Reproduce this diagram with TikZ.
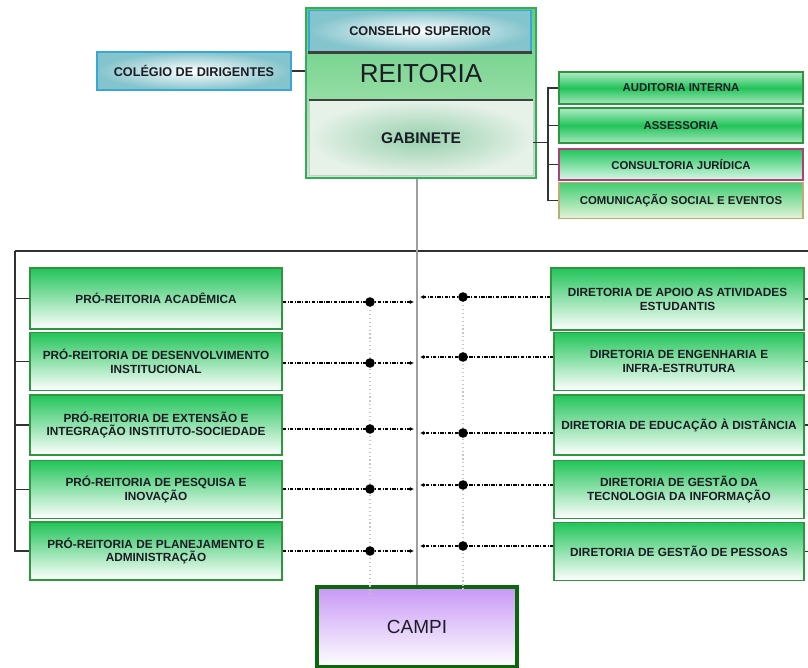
\documentclass[tikz,border=0pt]{standalone}
\usepackage{fontspec}
\setmainfont{Liberation Sans}
\usepackage{xcolor}
\usepackage{tikz}
\usetikzlibrary{positioning,calc,arrows.meta}

\definecolor{boxgreen}{RGB}{34,196,90}
\definecolor{boxline}{RGB}{46,150,62}
\definecolor{reitline}{RGB}{52,172,92}
\definecolor{reitgreen}{RGB}{96,204,128}
\definecolor{reitlight}{RGB}{196,236,196}
\definecolor{tealbox}{RGB}{132,196,204}
\definecolor{tealline}{RGB}{58,166,214}
\definecolor{gabdark}{RGB}{150,208,172}
\definecolor{gablight}{RGB}{230,241,232}
\definecolor{lilac}{RGB}{200,152,246}
\definecolor{campiline}{RGB}{12,102,12}
\definecolor{juridline}{RGB}{176,62,122}
\definecolor{juridlight}{RGB}{215,248,232}
\definecolor{comline}{RGB}{190,172,112}
\definecolor{comlight}{RGB}{226,243,216}
\definecolor{textdark}{RGB}{28,28,36}
\definecolor{busgray}{RGB}{50,50,50}

\begin{document}
\begin{tikzpicture}[x=0.025cm, y=-0.025cm,
    orgbox/.style={draw=boxline, line width=0.8pt, top color=boxgreen, bottom color=white,
        text=textdark, font=\bfseries\fontsize{8.4}{9.9}\selectfont, align=center,
        inner sep=0pt, minimum height=1.45cm},
    staffbox/.style={draw=boxline, line width=0.8pt, text=textdark,
        font=\bfseries\fontsize{8.1}{9.5}\selectfont, minimum width=6.1cm, inner sep=0pt},
    tealbox/.style={draw=tealline, line width=1pt, inner color=white, outer color=tealbox,
        text=textdark, font=\bfseries\fontsize{9}{10}\selectfont, inner sep=0pt},
    bus/.style={busgray, line width=1pt},
    bar/.style={black!75, line width=2pt},
    rowline/.style={black, line width=1.1pt, dash pattern=on 2.5pt off 1pt on 0.7pt off 1pt,
        -{Latex[length=3pt,width=3pt]}},
    feed/.style={gray!45, line width=0.8pt, dotted},
    dot/.style={circle, fill=black, inner sep=0pt, minimum size=0.24cm}]

    \useasboundingbox (0,0) rectangle (808,668);

    % Reitoria block
    \node[draw=reitline, line width=1.2pt, top color=reitgreen, bottom color=reitlight,
        minimum width=5.75cm, minimum height=4.25cm, inner sep=0pt] (reitoria) at (421,93) {};
    \node[tealbox, minimum width=5.55cm, minimum height=1.025cm] (conselho) at (420,31) {CONSELHO SUPERIOR};
    \node[text=textdark, font=\fontsize{18.5}{20}\selectfont] (reittitle) at (421,74) {REITORIA};
    \node[draw=gray!40, line width=0.6pt, inner color=gabdark, outer color=gablight,
        minimum width=5.6cm, minimum height=1.875cm, text=textdark,
        font=\bfseries\fontsize{11}{12}\selectfont] (gab) at (421,138) {GABINETE};
    \draw[bar] (conselho.south west) -- (conselho.south east);
    \draw[bar] (gab.north west) -- (gab.north east);

    % Colegio
    \node[tealbox, minimum width=4.85cm, minimum height=0.95cm] (col) at (194,71) {COLÉGIO DE DIRIGENTES};
    \draw[bus] (col.east) -- (col.east -| reitoria.west);

    % Staff boxes next to the Gabinete
    \node[staffbox, minimum height=0.8cm, top color=boxgreen!35!white, bottom color=boxgreen!40!white,
        middle color=boxgreen] (aud) at (681,88) {AUDITORIA INTERNA};
    \node[staffbox, minimum height=0.875cm, top color=boxgreen!35!white, bottom color=boxgreen!40!white,
        middle color=boxgreen] (ass) at (681,125.5) {ASSESSORIA};
    \node[staffbox, draw=juridline, minimum height=0.775cm, top color=boxgreen,
        bottom color=juridlight] (cons) at (681,164.5) {CONSULTORIA JURÍDICA};
    \node[staffbox, draw=comline, minimum height=0.89cm, top color=boxgreen!85!white,
        bottom color=comlight] (com) at (681,200.5) {COMUNICAÇÃO SOCIAL E EVENTOS};
    \coordinate (brk) at (548,142.7);
    \draw[bus] (gab.east |- brk) -- (brk);
    \draw[bus] (aud.west) -| (brk) |- (com.west);
    \draw[bus] (ass.west) -- (ass.west -| brk);
    \draw[bus] (cons.west) -- (cons.west -| brk);

    % Pro-reitorias (left)
    \node[orgbox, minimum width=6.3cm, minimum height=1.525cm] (pr1) at (156,298.5) {PRÓ-REITORIA ACADÊMICA};
    \node[orgbox, minimum width=6.3cm] (pr2) at (156,361.5) {PRÓ-REITORIA DE DESENVOLVIMENTO\\INSTITUCIONAL};
    \node[orgbox, minimum width=6.3cm, minimum height=1.5cm] (pr3) at (156,425) {PRÓ-REITORIA DE EXTENSÃO E\\INTEGRAÇÃO INSTITUTO-SOCIEDADE};
    \node[orgbox, minimum width=6.3cm] (pr4) at (156,489.5) {PRÓ-REITORIA DE PESQUISA E\\INOVAÇÃO};
    \node[orgbox, minimum width=6.3cm] (pr5) at (156,551) {PRÓ-REITORIA DE PLANEJAMENTO E\\ADMINISTRAÇÃO};

    % Diretorias (right)
    \node[orgbox, minimum width=6.325cm, minimum height=1.55cm] (dir1) at (677.5,299) {DIRETORIA DE APOIO AS ATIVIDADES\\ESTUDANTIS};
    \node[orgbox, minimum width=6.25cm] (dir2) at (679,361.5) {DIRETORIA DE ENGENHARIA E\\INFRA-ESTRUTURA};
    \node[orgbox, minimum width=6.25cm, minimum height=1.5cm] (dir3) at (679,425) {DIRETORIA DE EDUCAÇÃO À DISTÂNCIA};
    \node[orgbox, minimum width=6.25cm] (dir4) at (679,489.5) {DIRETORIA DE GESTÃO DA\\TECNOLOGIA DA INFORMAÇÃO};
    \node[orgbox, minimum width=6.25cm] (dir5) at (679,551.5) {DIRETORIA DE GESTÃO DE PESSOAS};

    % Campi
    \node[draw=campiline, line width=2.2pt, top color=lilac, bottom color=white,
        minimum width=5cm, minimum height=2cm, text=textdark,
        font=\fontsize{13.5}{15}\selectfont] (campi) at (417,627) {CAMPI};

    % Bus round the directorates
    \coordinate (busL) at (15,251);
    \coordinate (busR) at (812,251);
    \draw[bus] (busL) -- (busR);
    \draw[bus] (busL) |- (pr5.west);
    \draw[bus] (pr1.west) -- (pr1.west -| busL);
    \draw[bus] (pr2.west) -- (pr2.west -| busL);
    \draw[bus] (pr3.west) -- (pr3.west -| busL);
    \draw[bus] (pr4.west) -- (pr4.west -| busL);
    \draw[bus] (busR) |- (dir5.east);
    \draw[bus] (dir1.east) -- (dir1.east -| busR);
    \draw[bus] (dir2.east) -- (dir2.east -| busR);
    \draw[bus] (dir3.east) -- (dir3.east -| busR);
    \draw[bus] (dir4.east) -- (dir4.east -| busR);

    % Reitoria down to the Campi
    \draw[gray!75, line width=0.8pt] (campi.north |- reitoria.south) -- (campi.north);

    % Junctions
    \coordinate (dl1) at (370,302);
    \coordinate (dl2) at (370,363);
    \coordinate (dl3) at (370,429);
    \coordinate (dl4) at (370,489);
    \coordinate (dl5) at (370,551);
    \coordinate (dl6) at (370,595);
    \coordinate (dr1) at (463,297);
    \coordinate (dr2) at (463,357);
    \coordinate (dr3) at (463,433);
    \coordinate (dr4) at (463,485);
    \coordinate (dr5) at (463,546);
    \coordinate (dr6) at (463,590);
    \draw[feed] (dl1) -- (dl6);
    \draw[feed] (dr1) -- (dr6);

    % Left rows
    \draw[rowline] (pr1.east |- dl1) -- (dl1) -- ++(44,0);
    \draw[rowline] (pr2.east |- dl2) -- (dl2) -- ++(44,0);
    \draw[rowline] (pr3.east |- dl3) -- (dl3) -- ++(44,0);
    \draw[rowline] (pr4.east |- dl4) -- (dl4) -- ++(44,0);
    \draw[rowline] (pr5.east |- dl5) -- (dl5) -- ++(44,0);
    % Right rows
    \draw[rowline] (dir1.west |- dr1) -- (dr1) -- ++(-43,0);
    \draw[rowline] (dir2.west |- dr2) -- (dr2) -- ++(-43,0);
    \draw[rowline] (dir3.west |- dr3) -- (dr3) -- ++(-43,0);
    \draw[rowline] (dir4.west |- dr4) -- (dr4) -- ++(-43,0);
    \draw[rowline] (dir5.west |- dr5) -- (dr5) -- ++(-43,0);

    \node[dot] (jl1) at (dl1) {};
    \node[dot] (jl2) at (dl2) {};
    \node[dot] (jl3) at (dl3) {};
    \node[dot] (jl4) at (dl4) {};
    \node[dot] (jl5) at (dl5) {};
    \node[dot] (jr1) at (dr1) {};
    \node[dot] (jr2) at (dr2) {};
    \node[dot] (jr3) at (dr3) {};
    \node[dot] (jr4) at (dr4) {};
    \node[dot] (jr5) at (dr5) {};
\end{tikzpicture}
\end{document}
